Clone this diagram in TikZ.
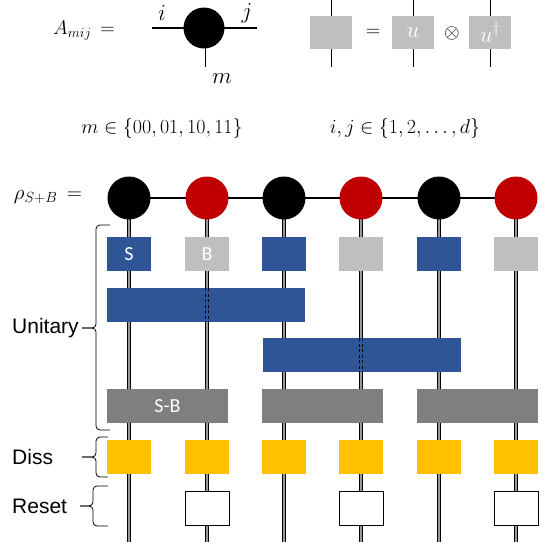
\RequirePackage{fix-cm}
\documentclass[tikz,border=0pt]{standalone}
\usepackage{fontspec}
\newfontfamily\arialf{Liberation Sans}
\newfontfamily\calf{Carlito}
\definecolor{tnblue}{HTML}{2F5597}
\definecolor{tnlgray}{HTML}{BFBFBF}
\definecolor{tndgray}{HTML}{7F7F7F}
\definecolor{tnyellow}{HTML}{FFC000}
\definecolor{tnred}{HTML}{C00000}
\begin{document}
\begin{tikzpicture}[x=1pt,y=-1pt,
  vline/.style={draw=gray!80, line width=1.5pt, preaction={draw=black, line width=3.3pt}},
  topdbl/.style={draw=white, line width=1.2pt, preaction={draw=black, line width=3pt}},
  dashln/.style={draw=black, line width=1pt, dash pattern=on 3pt off 2.5pt},
  bx/.style={rectangle, minimum width=44pt, minimum height=34pt, inner sep=0pt, outer sep=0pt},
  sbox/.style={bx, fill=tnblue},
  bbox/.style={bx, fill=tnlgray},
  ybox/.style={bx, fill=tnyellow},
  rbox/.style={bx, fill=white, draw=black, line width=0.9pt},
  wide/.style={rectangle, minimum height=34pt, inner sep=0pt, outer sep=0pt},
  dot/.style={circle, minimum size=43pt, inner sep=0pt, outer sep=0pt},
  mth/.style={font=\fontsize{20}{24}\selectfont, inner sep=0pt},
  idx/.style={font=\fontsize{23}{27}\selectfont, inner sep=0pt},
  bigm/.style={font=\fontsize{20}{24}\selectfont, inner sep=0pt},
  lbl/.style={font=\arialf\fontsize{21}{25}\selectfont, inner sep=0pt, anchor=west},
  inbox/.style={text=white, font=\calf\fontsize{20}{24}\selectfont},
  brace/.style={draw=black, line width=0.8pt, rounded corners=4pt}
]
\useasboundingbox (0,0) rectangle (550,544);

% ---------- top: tensor definition ----------
\node[mth] (Alab) at (84,31) {$A_{mij}\,=$};
\coordinate (Ali) at (152,28);
\coordinate (Ari) at (257,28);
\coordinate (Atop) at (204,40);
\coordinate (Abot) at (204,67);
\draw[line width=1.2pt] (Ali) -- (Ari);
\draw[topdbl] (Atop) -- (Abot);
\node[dot, minimum size=41pt, fill=black] (Acirc) at (204,28) {};
\node[idx] (ilab) at (162,13) {$i$};
\node[idx] (jlab) at (247,13) {$j$};
\node[idx] (mlab) at (222,79) {$m$};

\coordinate (Gt) at (330,0);
\coordinate (Gb) at (330,67);
\draw[topdbl] (Gt) -- (Gb);
\node[bx, minimum width=42pt, minimum height=33pt, fill=tnlgray] (G) at (331,32.5) {};
\node[mth] (eq) at (373,33) {$=$};
\coordinate (Ut) at (413,0);
\coordinate (Ub) at (413,67);
\draw[line width=0.8pt] (Ut) -- (Ub);
\node[bx, minimum width=42pt, minimum height=33pt, fill=tnlgray, text=white, font=\fontsize{23}{27}\selectfont] (U) at (413,32.5) {$u$};
\node[mth] (ot) at (452,33) {$\otimes$};
\coordinate (Vt) at (490,0);
\coordinate (Vb) at (490,67);
\draw[line width=0.8pt] (Vt) -- (Vb);
\node[bx, minimum width=42pt, minimum height=33pt, fill=tnlgray, text=white, font=\fontsize{23}{27}\selectfont] (V) at (490,32.5) {$u^{\dagger}$};

\node[bigm] (mset) at (162,128) {$m\in\{00,01,10,11\}$};
\node[bigm] (ijset) at (405,128) {$i,j\in\{1,2,\dots,d\}$};

% ---------- main network ----------
\node[mth, font=\fontsize{21}{25}\selectfont] (rho) at (48,197) {$\rho_{S+B}\,=$};

\foreach \i/\x in {1/129,2/207,3/284,4/361,5/439,6/516}{
  \coordinate (c\i) at (\x,198);
  \coordinate (b\i) at (\x,542);
  \draw[vline] (c\i) -- (b\i);
}
\draw[line width=1.2pt] (c1) -- (c6);
\foreach \i/\x/\col in {1/129/black,2/207/tnred,3/284/black,4/361/tnred,5/439/black,6/516/tnred}{
  \node[dot, fill=\col] (n\i) at (\x,198) {};
}
% single-site unitaries
\node[sbox, inbox] (s1) at (129,254) {S};
\node[bbox, inbox] (s2) at (207,254) {B};
\node[sbox] (s3) at (284,254) {};
\node[bbox] (s4) at (361,254) {};
\node[sbox] (s5) at (439,254) {};
\node[bbox] (s6) at (516,254) {};

% wide unitaries
\node[wide, fill=tnblue, minimum width=198pt] (w1) at (206,305) {};
\node[wide, fill=tnblue, minimum width=198pt] (w2) at (362,355) {};
\draw[dashln] ([xshift=-1.3pt]w1.north -| c2) -- ([xshift=-1.3pt]w1.south -| c2);
\draw[dashln] ([xshift=1.3pt]w1.north -| c2) -- ([xshift=1.3pt]w1.south -| c2);
\draw[dashln] ([xshift=-1.3pt]w2.north -| c4) -- ([xshift=-1.3pt]w2.south -| c4);
\draw[dashln] ([xshift=1.3pt]w2.north -| c4) -- ([xshift=1.3pt]w2.south -| c4);

% S-B interactions
\node[wide, fill=tndgray, minimum width=121pt, inbox] (g1) at (167.5,406) {S-B};
\node[wide, fill=tndgray, minimum width=121pt] (g2) at (322.5,406) {};
\node[wide, fill=tndgray, minimum width=121pt] (g3) at (477.5,406) {};

% dissipation
\foreach \i/\x in {1/129,2/207,3/284,4/361,5/439,6/516}{
  \node[ybox] (d\i) at (\x,457) {};
}
% reset
\node[rbox] (r2) at (207,508) {};
\node[rbox] (r4) at (361,508) {};
\node[rbox] (r6) at (516,508) {};

% braces and labels
\coordinate (ua) at (110,225);
\coordinate (ub) at (110,430);
\draw[brace] (ua) -- (96,225) -- (96,328) -- (82,328);
\draw[brace] (82,328) -- (96,328) -- (96,430) -- (ub);
\node[lbl] (unit) at (12,328) {Unitary};

\coordinate (da) at (108,437);
\coordinate (db) at (108,477);
\draw[brace] (da) -- (96,437) -- (96,457) -- (82,457);
\draw[brace] (82,457) -- (96,457) -- (96,477) -- (db);
\node[lbl] (diss) at (12,457) {Diss};

\coordinate (ra) at (108,486);
\coordinate (rb) at (108,526);
\draw[brace] (ra) -- (93,486) -- (93,506) -- (80,506);
\draw[brace] (80,506) -- (93,506) -- (93,526) -- (rb);
\node[lbl] (reset) at (12,506) {Reset};
\end{tikzpicture}
\end{document}
